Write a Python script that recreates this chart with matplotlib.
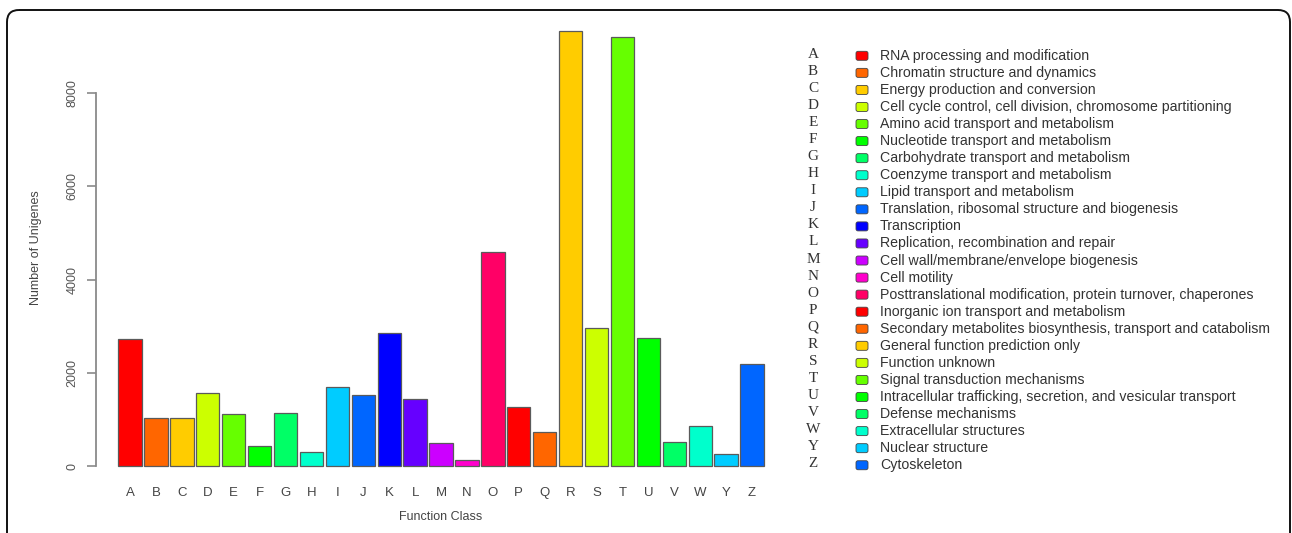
import matplotlib
matplotlib.use("Agg")
import matplotlib.pyplot as plt
import numpy as np
from matplotlib.patches import FancyBboxPatch

# COG function classes (no X in this dataset)
classes = list("ABCDEFGHIJKLMNOPQRSTUVWYZ")
counts = [2720, 1030, 1030, 1560, 1120, 430, 1140, 300, 1690, 1520, 2860,
          1430, 490, 120, 4600, 1270, 720, 9340, 2970, 9200, 2740, 520,
          860, 250, 2180]
descriptions = [
    "RNA processing and modification",
    "Chromatin structure and dynamics",
    "Energy production and conversion",
    "Cell cycle control, cell division, chromosome partitioning",
    "Amino acid transport and metabolism",
    "Nucleotide transport and metabolism",
    "Carbohydrate transport and metabolism",
    "Coenzyme transport and metabolism",
    "Lipid transport and metabolism",
    "Translation, ribosomal structure and biogenesis",
    "Transcription",
    "Replication, recombination and repair",
    "Cell wall/membrane/envelope biogenesis",
    "Cell motility",
    "Posttranslational modification, protein turnover, chaperones",
    "Inorganic ion transport and metabolism",
    "Secondary metabolites biosynthesis, transport and catabolism",
    "General function prediction only",
    "Function unknown",
    "Signal transduction mechanisms",
    "Intracellular trafficking, secretion, and vesicular transport",
    "Defense mechanisms",
    "Extracellular structures",
    "Nuclear structure",
    "Cytoskeleton",
]
yticks = [0, 2000, 4000, 6000, 8000]

# R rainbow(15), recycled over the 25 classes
rainbow15 = ["#FF0000", "#FF6600", "#FFCC00", "#CCFF00", "#66FF00",
             "#00FF00", "#00FF66", "#00FFCC", "#00CCFF", "#0066FF",
             "#0000FF", "#6600FF", "#CC00FF", "#FF00CC", "#FF0066"]
colors = [rainbow15[i % 15] for i in range(len(classes))]

W, H = 1292, 533
plt.rcParams["font.family"] = ["Liberation Sans", "DejaVu Sans"]
fig = plt.figure(figsize=(W / 100, H / 100), dpi=100)

# main axes placed in pixel terms
left_px, right_px = 96, 770
top_px, bottom_px = 13, 484
zero_px, px_per_k = 466, 46.6
first_px, pitch = 130, 25.92

ax = fig.add_axes([left_px / W, 1 - bottom_px / H,
                   (right_px - left_px) / W, (bottom_px - top_px) / H])
x = np.arange(len(classes))
ax.bar(x, counts, width=0.9, color=colors, edgecolor="#5a5a5a", linewidth=0.9)
ax.set_xlim((left_px - first_px) / pitch, (right_px - first_px) / pitch)
ax.set_ylim(-(bottom_px - zero_px) / px_per_k * 1000,
            (zero_px - top_px) / px_per_k * 1000)

for side in ("top", "right", "bottom"):
    ax.spines[side].set_visible(False)
ax.spines["left"].set_bounds(0, 8000)
ax.spines["left"].set_color("#8a8a8a")
ax.spines["left"].set_linewidth(1.3)

ax.set_yticks(yticks)
ax.set_yticklabels([str(v) for v in yticks], rotation=90, va="center")
ax.tick_params(axis="y", length=6.5, width=1.2, color="#8a8a8a", pad=6,
               labelsize=9, labelcolor="#555555")
ax.set_xticks(x, classes)
ax.tick_params(axis="x", length=0, pad=2, labelsize=9.5, labelcolor="#444444")

# overlay in pixel coordinates for labels, legend and the frame
ov = fig.add_axes([0, 0, 1, 1], zorder=5)
ov.set_xlim(0, W)
ov.set_ylim(H, 0)
ov.axis("off")

ov.text(441, 517, "Function Class", ha="center", va="center", fontsize=9,
        color="#444444")
ov.text(36, 248, "Number of Unigenes", ha="center", va="center", fontsize=9,
        color="#444444", rotation=90)

row0, row_step = 55.8, 17.06
for i, (c, lab, col) in enumerate(zip(classes, descriptions, colors)):
    y = row0 + row_step * i
    ov.text(813, y - 1.5, c, ha="center", va="center", fontsize=11,
            family=["Liberation Serif", "DejaVu Serif"], color="#333333")
    ov.add_patch(FancyBboxPatch((856, y - 4.5), 12, 9,
                                boxstyle="round,pad=0,rounding_size=2",
                                facecolor=col, edgecolor="#444444",
                                linewidth=0.6))
    ov.text(880, y, lab, ha="left", va="center", fontsize=10.2,
            color="#333333")

ov.add_patch(FancyBboxPatch((7, 10), 1283, 600,
                            boxstyle="round,pad=0,rounding_size=12",
                            fill=False, edgecolor="#111111", linewidth=1.4,
                            clip_on=False))

fig.savefig("out.png", dpi=100)
